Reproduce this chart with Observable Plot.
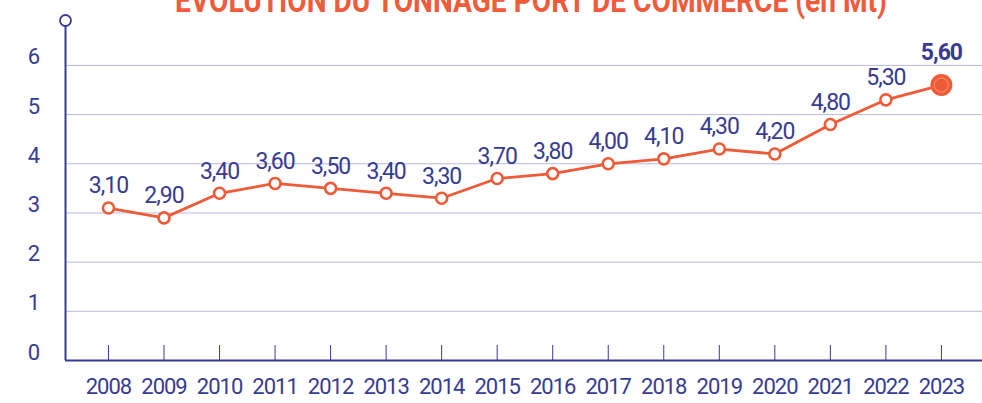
<!DOCTYPE html>
<html>
<head>
<meta charset="utf-8">
<script src="https://cdn.jsdelivr.net/npm/d3@7"></script>
<script src="https://cdn.jsdelivr.net/npm/@observablehq/plot@0.6"></script>
<style>
  html, body { margin: 0; padding: 0; background: #fff; }
  #wrap { position: relative; width: 982px; height: 403px; overflow: hidden; }
  #title { position: absolute; left: 0; top: 0; }
  #chart text { letter-spacing: -1px; }
</style>
</head>
<body>
<div id="wrap">
  <div id="chart"></div>
  <svg id="title" width="982" height="40">
    <text x="175" y="12" textLength="712" lengthAdjust="spacingAndGlyphs"
      font-family="Roboto, sans-serif" font-weight="700"
      font-size="34" fill="#f05b3c">ÉVOLUTION DU TONNAGE PORT DE COMMERCE (en Mt)</text>
  </svg>
</div>
<script>
// ---- data ----
const years = [2008, 2009, 2010, 2011, 2012, 2013, 2014, 2015, 2016, 2017, 2018, 2019, 2020, 2021, 2022, 2023];
const tonnage = [3.10, 2.90, 3.40, 3.60, 3.50, 3.40, 3.30, 3.70, 3.80, 4.00, 4.10, 4.30, 4.20, 4.80, 5.30, 5.60];
const valueLabels = ["3,10", "2,90", "3,40", "3,60", "3,50", "3,40", "3,30", "3,70", "3,80", "4,00", "4,10", "4,30", "4,20", "4,80", "5,30", "5,60"];
const yTicks = [0, 1, 2, 3, 4, 5, 6];

// ---- styles ----
const blue = "#373b94";
const grid = "#b9b9e0";
const orange = "#ef5a37";
const font = "Roboto, sans-serif";

const data = years.map((y, i) => ({year: y, value: tonnage[i], label: valueLabels[i]}));
const regular = data.slice(0, -1);
const last = data.slice(-1);

const xDomain = [2007.226, 2023.74];
const yDomain = [0, 7.32];
const pxPerUnit = 360 / yDomain[1];
const tickLen = 15 / pxPerUnit;
const axisTop = 340 / pxPerUnit;

const chart = Plot.plot({
  width: 982,
  height: 403,
  marginLeft: 65,
  marginRight: 0,
  marginTop: 0,
  marginBottom: 43,
  style: {fontFamily: font, background: "transparent", overflow: "visible"},
  x: {type: "linear", domain: xDomain, axis: null},
  y: {domain: yDomain, axis: null},
  marks: [
    Plot.ruleY(yTicks.filter(d => d > 0), {stroke: grid, strokeWidth: 1}),
    Plot.ruleX(years, {x: d => d, y1: 0, y2: tickLen, stroke: blue, strokeWidth: 1}),
    Plot.ruleY([0], {stroke: blue, strokeWidth: 2}),
    Plot.ruleX([xDomain[0]], {y1: 0, y2: axisTop, stroke: blue, strokeWidth: 2}),
    Plot.dot([xDomain[0]], {x: d => d, y: axisTop, r: 5.5, fill: "white", stroke: blue, strokeWidth: 1.8}),
    Plot.text(yTicks, {y: d => d, text: d => String(d), frameAnchor: "left", dx: -32, dy: -8, textAnchor: "middle", fontSize: 22, fill: blue}),
    Plot.text(years, {x: d => d, text: d => String(d), frameAnchor: "bottom", dy: 33, textAnchor: "middle", fontSize: 22, fill: blue}),
    Plot.line(data, {x: "year", y: "value", stroke: orange, strokeWidth: 2.8}),
    Plot.dot(regular, {x: "year", y: "value", r: 5.5, fill: "white", stroke: orange, strokeWidth: 2.6}),
    Plot.dot(last, {x: "year", y: "value", r: 11, fill: orange, stroke: "none"}),
    Plot.dot(last, {x: "year", y: "value", r: 7, fill: "none", stroke: "#f9a38c", strokeWidth: 0.8}),
    Plot.text(regular, {x: "year", y: "value", text: "label", dy: -22, fontSize: 23, fill: blue}),
    Plot.text(last, {x: "year", y: "value", text: "label", dy: -32, fontSize: 23, fontWeight: "bold", fill: blue})
  ]
});
document.getElementById("chart").appendChild(chart);
</script>
</body>
</html>
